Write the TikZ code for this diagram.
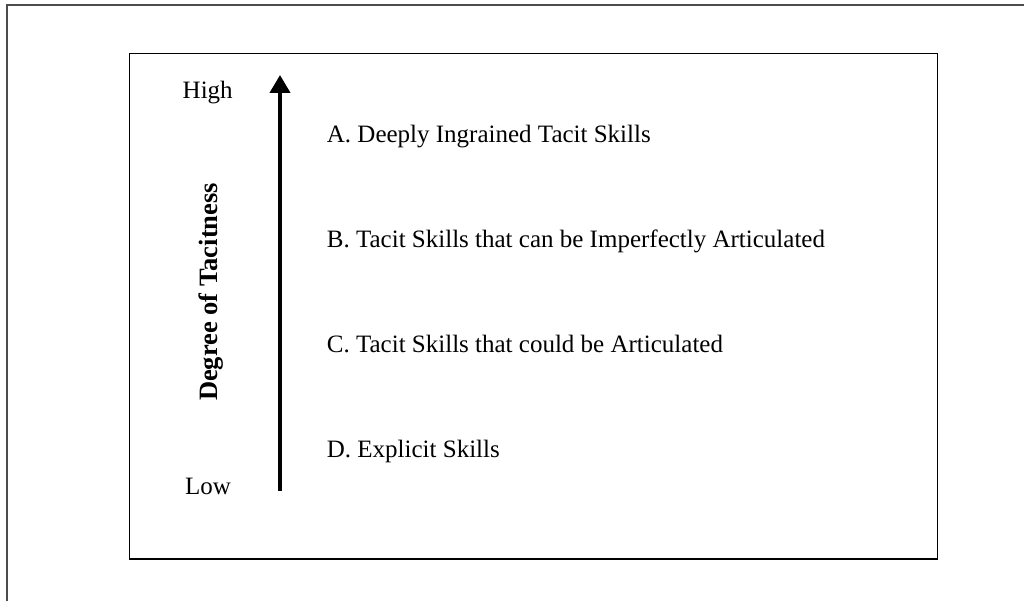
\documentclass[tikz,border=0pt]{standalone}
\usepackage{fontspec}
\setmainfont{Liberation Serif}
\usetikzlibrary{arrows.meta}

\tikzset{
    frame/.style={draw=black!70, line width=2pt},
    level/.style={anchor=base west, inner sep=0pt, font=\fontsize{25}{28}\selectfont},
    axislab/.style={anchor=base, inner sep=0pt, font=\fontsize{25}{28}\selectfont},
}

\begin{document}
\begin{tikzpicture}[x=1pt, y=-1pt]
        \useasboundingbox (0,0) rectangle (1025,601);
        \draw[frame] (7,601) -- (7,5.5) -- (1024,5.5);
        \draw[line width=1.3pt] (129.3,53.7) rectangle (937.3,559);
        \coordinate (lo) at (280,491);
        \coordinate (hi) at (280,75);
        \draw[line width=4pt, -{Triangle[width=20pt,length=18pt]}] (lo) -- (hi);
        \node[axislab] (high) at (207.7,98.3) {High};
        \node[axislab] (low) at (208,494) {Low};
        \node[axislab, rotate=90, font=\fontsize{26.5}{30}\selectfont\bfseries] (deg) at (217.7,292) {Degree of Tacitness};
        \foreach \lab [count=\k] in {A. Deeply Ingrained Tacit Skills,
                B. Tacit Skills that can be Imperfectly Articulated,
                C. Tacit Skills that could be Articulated,
                D. Explicit Skills} {
            \node[level] (skill\k) at (326.7, 142.5+105*\k-105) {\lab};
        }
    \end{tikzpicture}
\end{document}
